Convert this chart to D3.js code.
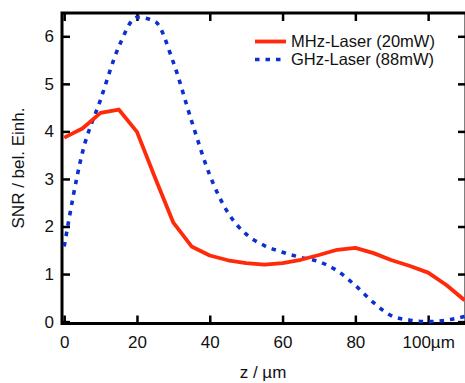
<!DOCTYPE html>
<html>
<head>
<meta charset="utf-8">
<script src="https://cdn.jsdelivr.net/npm/d3@7"></script>
<style>
  html, body { margin: 0; padding: 0; background: #fff; }
  svg { display: block; font-family: "Liberation Sans", Arial, sans-serif; }
</style>
</head>
<body>
<svg id="chart" width="465" height="383"></svg>
<script>
// Depth positions (µm)
const zPos = [0, 5, 10, 15, 20, 25, 30, 35, 40, 45, 50, 55, 60, 65, 70, 75, 80, 85, 90, 95, 100, 105, 110];
// SNR of the MHz laser (20 mW)
const snrMHz = [3.87, 4.06, 4.39, 4.46, 3.99, 3.02, 2.08, 1.58, 1.39, 1.29, 1.23, 1.20, 1.23, 1.30, 1.40, 1.51, 1.55, 1.44, 1.29, 1.17, 1.03, 0.77, 0.45];
// SNR of the GHz laser (88 mW)
const snrGHz = [1.58, 3.55, 4.67, 5.78, 6.40, 6.31, 5.45, 4.22, 3.08, 2.29, 1.84, 1.60, 1.46, 1.35, 1.26, 1.07, 0.76, 0.40, 0.12, 0.03, 0.00, 0.03, 0.11];

const xTicks = [0, 20, 40, 60, 80, 100];
const xTickLabels = ["0", "20", "40", "60", "80", "100µm"];
const yTicks = [0, 1, 2, 3, 4, 5, 6];

const seriesNames = ["MHz-Laser (20mW)", "GHz-Laser (88mW)"];
const seriesColors = ["#ff2a0a", "#0b2fd0"];

const svg = d3.select("#chart");
const plotL = 62, plotR = 466, plotT = 13, plotB = 323.5;

const x = d3.scaleLinear().domain([-0.6, 110.4]).range([plotL, plotR]);
const y = d3.scaleLinear().domain([-0.04, 6.49]).range([plotB, plotT]);

const tickLen = 8;
const fontSize = 17;

// Axes with inward ticks on all four sides
const gx = svg.append("g").attr("transform", `translate(0,${plotB})`)
  .call(d3.axisBottom(x).tickValues(xTicks).tickSize(-tickLen).tickSizeOuter(0).tickPadding(12)
    .tickFormat((d, i) => xTickLabels[i]));
const gxt = svg.append("g").attr("transform", `translate(0,${plotT})`)
  .call(d3.axisTop(x).tickValues(xTicks).tickSize(-tickLen).tickSizeOuter(0).tickFormat(""));
const gy = svg.append("g").attr("transform", `translate(${plotL},0)`)
  .call(d3.axisLeft(y).tickValues(yTicks).tickSize(-tickLen).tickSizeOuter(0).tickPadding(8)
    .tickFormat(d3.format("d")));
const gyr = svg.append("g").attr("transform", `translate(${plotR},0)`)
  .call(d3.axisRight(y).tickValues(yTicks).tickSize(-tickLen).tickSizeOuter(0).tickFormat(""));

[gx, gxt, gy, gyr].forEach(g => {
  g.select(".domain").remove();
  g.selectAll(".tick line").attr("stroke", "#000").attr("stroke-width", 2.5);
  g.selectAll(".tick text").attr("fill", "#111").style("font-size", fontSize + "px")
    .style("font-family", '"Liberation Sans", Arial, sans-serif');
});

// Frame
svg.append("rect")
  .attr("x", plotL).attr("y", plotT)
  .attr("width", plotR - plotL).attr("height", plotB - plotT)
  .attr("fill", "none").attr("stroke", "#000").attr("stroke-width", 3);

// Data lines
const line = d3.line().x(d => x(d[0])).y(d => y(d[1]));
const redPts = zPos.map((z, i) => [z, snrMHz[i]]);
const bluePts = zPos.map((z, i) => [z, snrGHz[i]]);

svg.append("path").datum(bluePts)
  .attr("d", line.curve(d3.curveMonotoneX))
  .attr("fill", "none").attr("stroke", seriesColors[1])
  .attr("stroke-width", 3.6).attr("stroke-dasharray", "4.5,6");

svg.append("path").datum(redPts)
  .attr("d", line.curve(d3.curveLinear))
  .attr("fill", "none").attr("stroke", seriesColors[0])
  .attr("stroke-width", 3.8).attr("stroke-linejoin", "round");

// Legend
const legend = svg.append("g");
seriesNames.forEach((name, i) => {
  const ly = 41.5 + i * 18;
  legend.append("line")
    .attr("x1", 255).attr("x2", 286).attr("y1", ly).attr("y2", ly)
    .attr("stroke", seriesColors[i]).attr("stroke-width", i === 0 ? 3.8 : 3.6)
    .attr("stroke-dasharray", i === 0 ? null : "4.5,6");
  legend.append("text")
    .attr("x", 291).attr("y", ly).attr("dy", "0.35em")
    .style("font-size", "16.5px").attr("fill", "#111")
    .text(name);
});

// Axis titles
svg.append("text")
  .attr("x", (plotL + 464) / 2).attr("y", 378)
  .attr("text-anchor", "middle").style("font-size", fontSize + "px").attr("fill", "#111")
  .text("z / µm");

svg.append("text")
  .attr("transform", `translate(24,168) rotate(-90)`)
  .attr("text-anchor", "middle").style("font-size", fontSize + "px").attr("fill", "#111")
  .text("SNR / bel. Einh.");
</script>
</body>
</html>
